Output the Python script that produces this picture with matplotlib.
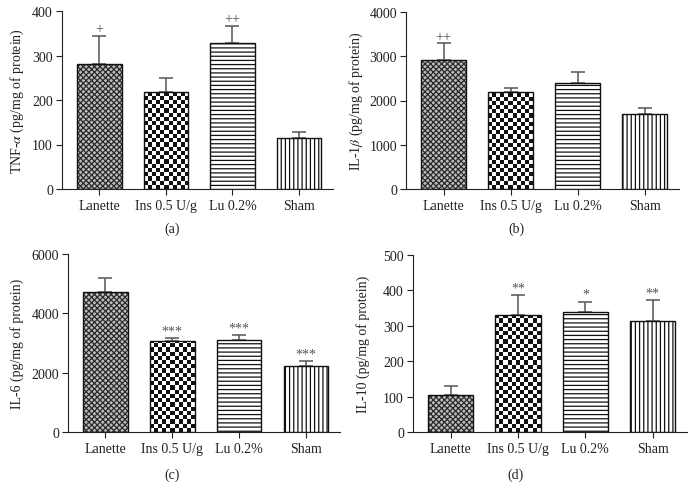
import numpy as np
import matplotlib
matplotlib.use('Agg')
import matplotlib.pyplot as plt
from matplotlib.patches import Rectangle

plt.rcParams['font.family'] = ['Liberation Serif', 'DejaVu Serif']
plt.rcParams['mathtext.fontset'] = 'stix'
plt.rcParams['hatch.linewidth'] = 0.9

groups = ['Lanette', 'Ins 0.5 U/g', 'Lu 0.2%', 'Sham']

tnf_mean = [282, 218, 328, 114]
tnf_err = [62, 31, 39, 14]
tnf_sig = ['+', '', '++', '']

il1b_mean = [2915, 2192, 2403, 1687]
il1b_err = [377, 90, 241, 143]
il1b_sig = ['++', '', '', '']

il6_mean = [4720, 3075, 3110, 2210]
il6_err = [470, 85, 160, 170]
il6_sig = ['', '***', '***', '***']

il10_mean = [105, 330, 338, 314]
il10_err = [25, 56, 30, 59]
il10_sig = ['', '**', '*', '**']

W, H = 688, 502
dpi = 100
fig = plt.figure(figsize=(W / dpi, H / dpi), dpi=dpi)

txt = '#231f20'
bar_w = 0.67
xlim = (-0.56, 3.51)


def checker(ax, x, h, sq_px, c0, c1, box_px, ytop):
    # checkerboard fill clipped to the bar
    w_px = bar_w / (xlim[1] - xlim[0]) * box_px[2]
    ppy = box_px[3] / ytop
    nx = max(1, int(round(w_px / sq_px)))
    ny = int(np.ceil(h * ppy / sq_px)) + 1
    arr = (np.add.outer(np.arange(ny), np.arange(nx)) % 2).astype(float)
    top = ny * sq_px / ppy
    rect = Rectangle((x - bar_w / 2, 0), bar_w, h, transform=ax.transData)
    im = ax.imshow(arr, extent=(x - bar_w / 2, x + bar_w / 2, 0, top), origin='lower',
                   cmap=matplotlib.colors.ListedColormap([c0, c1]), interpolation='nearest',
                   aspect='auto', zorder=2)
    im.set_clip_path(rect)


def panel(box_px, means, errs, sigs, ytop, yticks, ylabel, tag, ylab_x, tag_y):
    l, t, r, b = box_px
    ax = fig.add_axes([l / W, 1 - b / H, (r - l) / W, (b - t) / H])
    x = np.arange(len(groups))
    box = (l, t, r - l, b - t)
    # Lanette: fine crosshatch, Ins: coarse checker
    ax.bar(x[0], means[0], bar_w, facecolor='#bdbdbd', edgecolor='#2a2a2a', hatch='xxxxxx',
           linewidth=0, zorder=2)
    checker(ax, x[1], means[1], 4.2, '#ffffff', '#111111', box, ytop)
    ax.bar(x[0:2], means[0:2], bar_w, facecolor='none', edgecolor='#111', linewidth=1.0, zorder=3)
    ax.bar(x[2], means[2], bar_w, facecolor='white', edgecolor='#111', hatch='----',
           linewidth=1.0, zorder=3)
    ax.bar(x[3], means[3], bar_w, facecolor='white', edgecolor='#111', hatch='||||',
           linewidth=1.0, zorder=3)
    ax.errorbar(x, means, yerr=[np.zeros(len(errs)), errs], fmt='none', ecolor='#555',
                elinewidth=1.1, capsize=5, capthick=1.1, zorder=1)
    for xi, m, e, s in zip(x, means, errs, sigs):
        if s:
            ax.annotate(s, (xi, m + e), xytext=(0, 0.5), textcoords='offset points',
                        ha='center', va='bottom', fontsize=10, color='#555')
    ax.set_xlim(*xlim)
    ax.set_ylim(0, ytop)
    ax.set_yticks(yticks)
    ax.set_xticks(x)
    ax.set_xticklabels(groups, fontsize=10, color=txt)
    ax.tick_params(axis='y', labelsize=10, labelcolor=txt, length=4.5, width=0.8, color='#222', pad=2)
    ax.tick_params(axis='x', length=4, width=0.8, color='#222', pad=3)
    for sp in ['top', 'right']:
        ax.spines[sp].set_visible(False)
    for sp in ['left', 'bottom']:
        ax.spines[sp].set_linewidth(0.8)
        ax.spines[sp].set_color('#222')
    fig.text(ylab_x / W, 1 - (t + b) / 2 / H, ylabel, rotation=90, ha='center', va='center',
             fontsize=10, color=txt)
    fig.text((172 if l < 344 else 516) / W, 1 - tag_y / H, tag, ha='center', va='center',
             fontsize=10, color=txt)
    return ax


panel((62, 12, 333, 190), tnf_mean, tnf_err, tnf_sig, 400, [0, 100, 200, 300, 400],
      'TNF-$\\alpha$ (pg/mg of protein)', '(a)', 17, 229)
panel((406, 13, 679, 190), il1b_mean, il1b_err, il1b_sig, 4000, [0, 1000, 2000, 3000, 4000],
      'IL-1$\\beta$ (pg/mg of protein)', '(b)', 356, 229)
panel((68, 255, 340, 433), il6_mean, il6_err, il6_sig, 6000, [0, 2000, 4000, 6000],
      'IL-6 (pg/mg of protein)', '(c)', 17, 475)
panel((413, 256, 687, 433), il10_mean, il10_err, il10_sig, 500, [0, 100, 200, 300, 400, 500],
      'IL-10 (pg/mg of protein)', '(d)', 363, 475)

fig.savefig('out.png', dpi=dpi)
